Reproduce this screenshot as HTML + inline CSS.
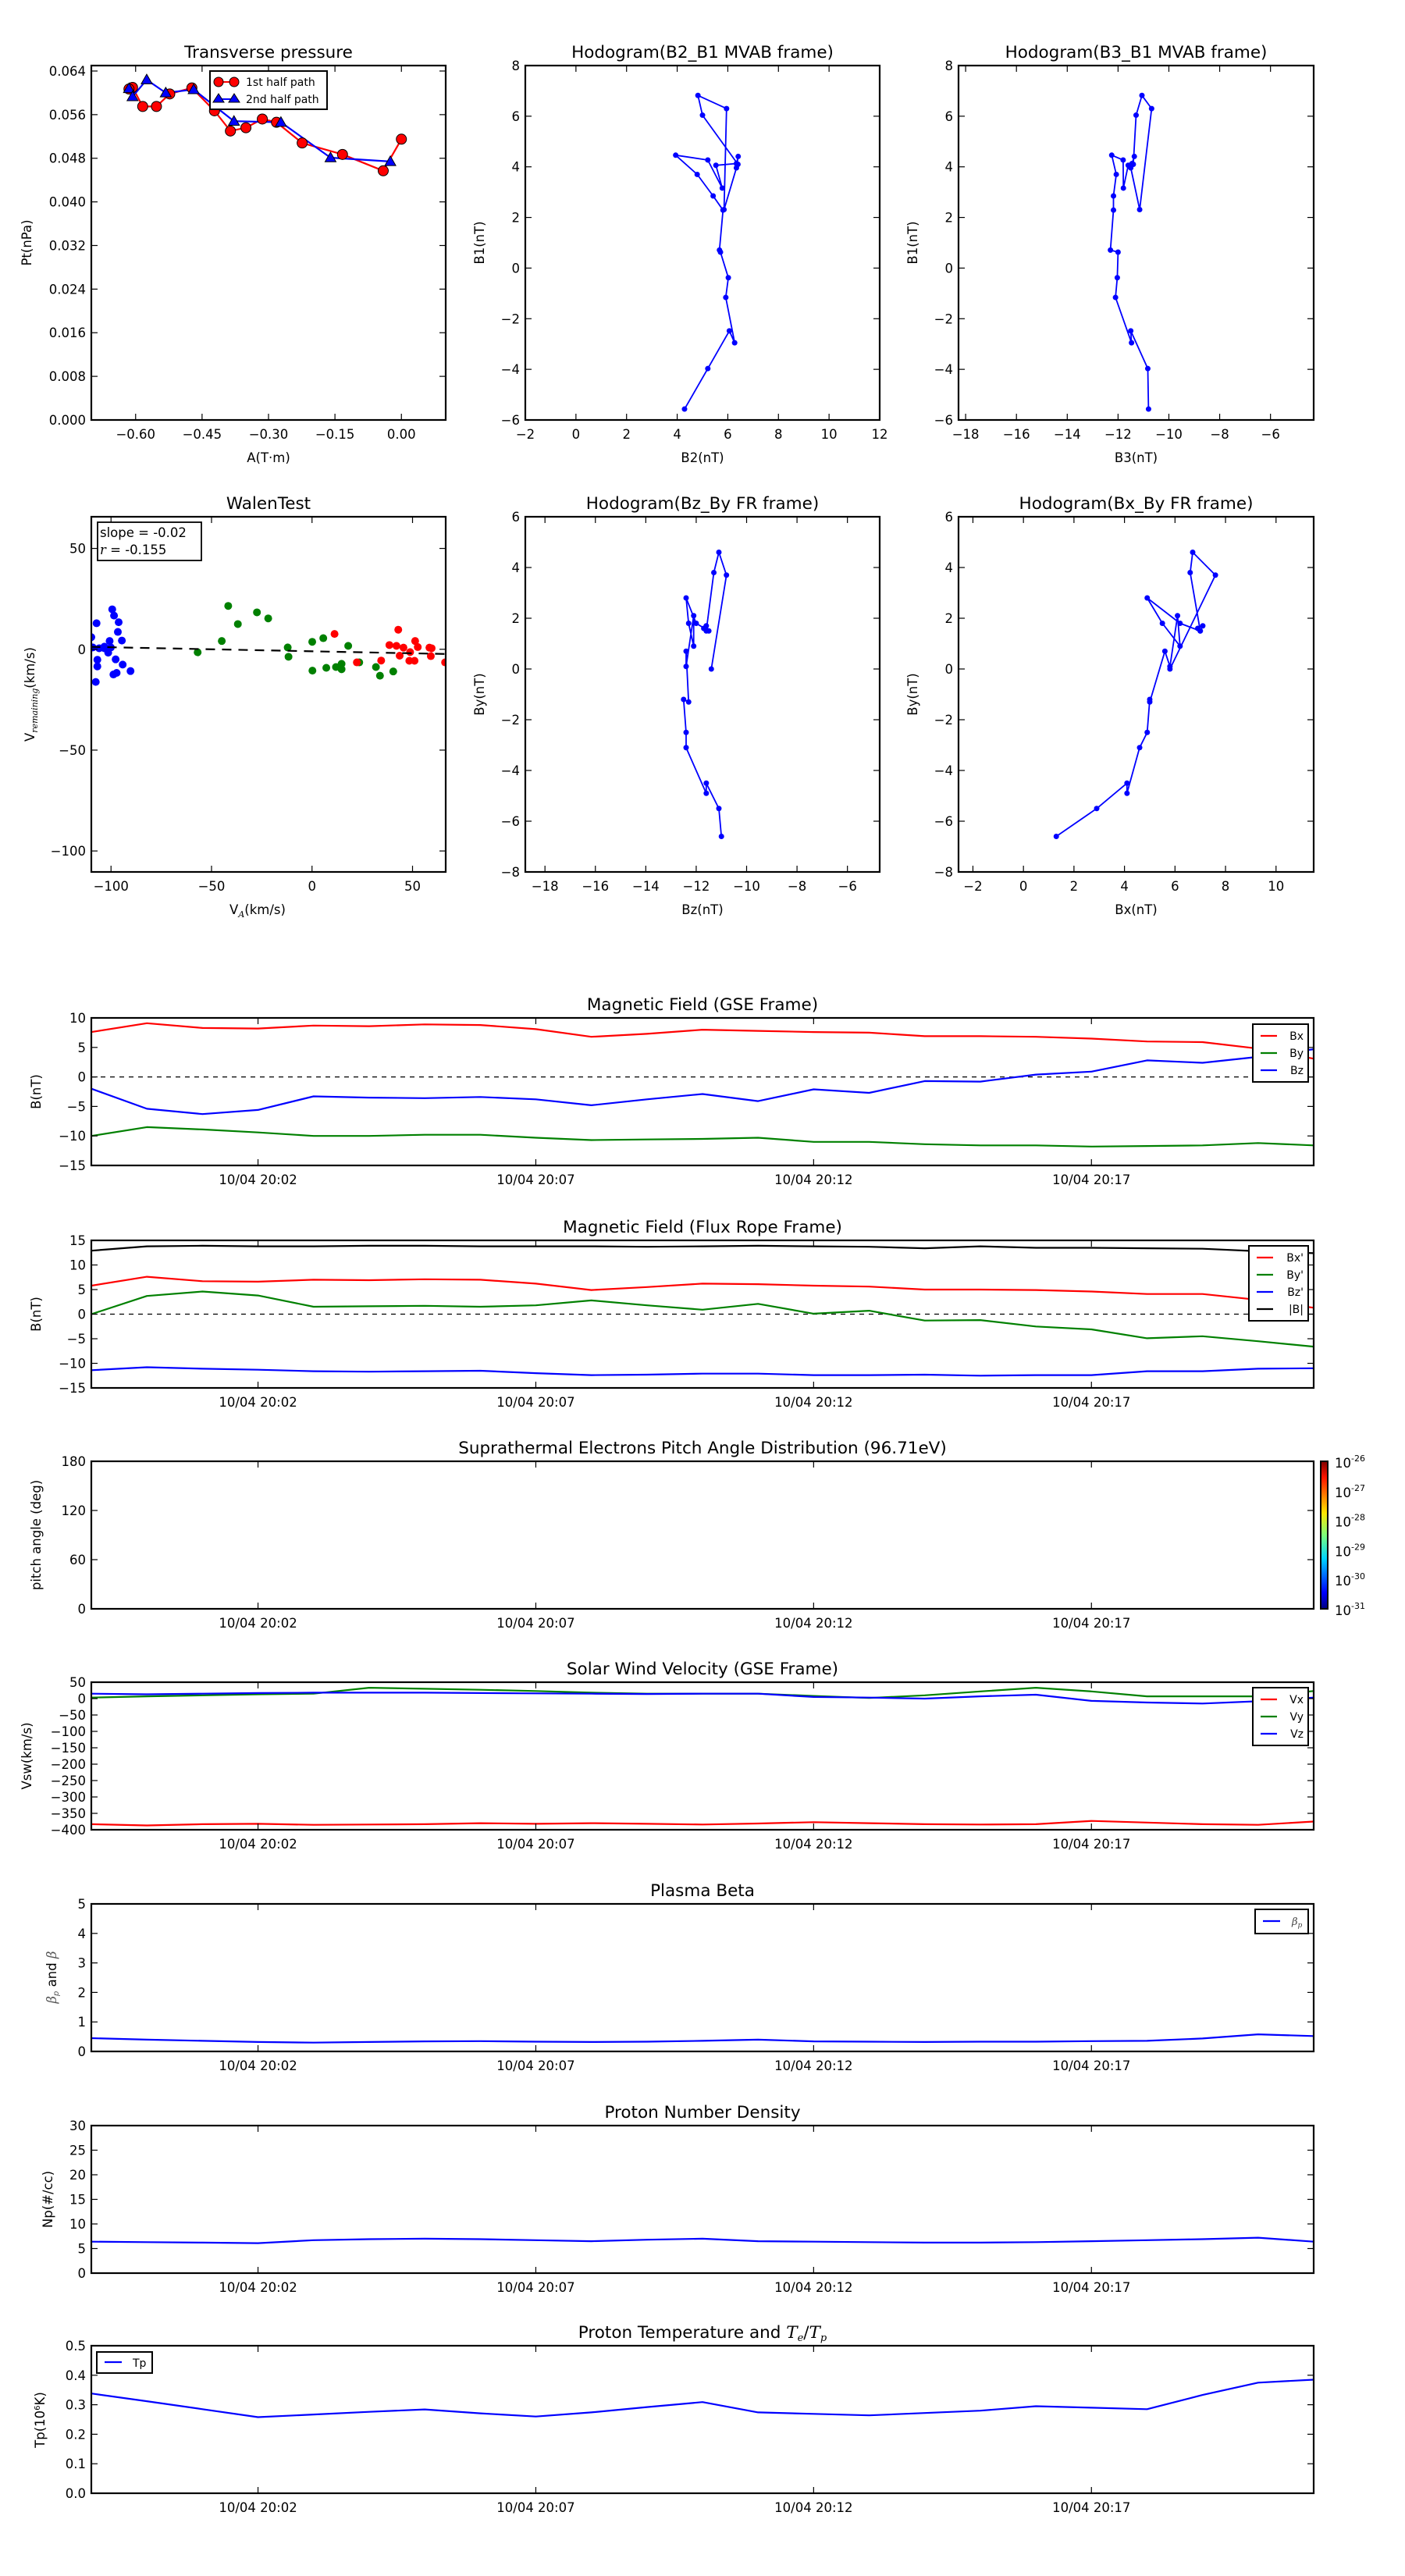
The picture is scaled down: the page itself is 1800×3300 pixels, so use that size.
<!DOCTYPE html>
<html><head><meta charset="utf-8"><title>Flux rope analysis</title>
<style>
html,body{margin:0;padding:0;background:#fff;}
svg{display:block;font-family:"DejaVu Sans","Liberation Sans",sans-serif;}
</style></head>
<body>
<svg id="fig" xmlns="http://www.w3.org/2000/svg" width="1800" height="3300" viewBox="0 0 1800 3300">
<defs>
<linearGradient id="jet" x1="0" y1="1" x2="0" y2="0">
<stop offset="0" stop-color="#00007f"/><stop offset="0.11" stop-color="#0000ff"/><stop offset="0.34" stop-color="#00d4ff"/><stop offset="0.5" stop-color="#7dff7a"/><stop offset="0.65" stop-color="#ffe600"/><stop offset="0.89" stop-color="#ff1400"/><stop offset="1" stop-color="#7f0000"/>
</linearGradient>
</defs>
</svg>
<script>
// ---------- data ----------
// Transverse pressure
const ptRedA = [0.000,-0.041,-0.133,-0.224,-0.282,-0.314,-0.351,-0.386,-0.422,-0.473,-0.523,-0.553,-0.584,-0.607,-0.615];
const ptRedP = [0.0515,0.0457,0.0487,0.0508,0.0546,0.0552,0.0536,0.0530,0.0567,0.0609,0.0598,0.0575,0.0575,0.0610,0.0607];
const ptBlueA = [-0.615,-0.607,-0.575,-0.532,-0.469,-0.378,-0.272,-0.160,-0.025];
const ptBlueP = [0.0608,0.0593,0.0624,0.0600,0.0606,0.0548,0.0546,0.0481,0.0474];
// MVAB hodograms
const mvB1 = [-5.57,-3.97,-2.48,-2.95,-1.16,-0.38,0.63,0.71,2.29,2.85,3.70,4.46,4.27,3.16,4.06,4.13,4.41,3.96,2.31,6.30,6.82,6.04,4.10];
const mvB2 = [4.29,5.21,6.06,6.27,5.92,6.02,5.71,5.67,5.81,5.42,4.79,3.94,5.21,5.78,5.53,6.34,6.41,6.34,5.85,5.95,4.82,5.00,6.40];
const mvB3 = [-10.80,-10.83,-11.50,-11.47,-12.10,-12.03,-12.00,-12.30,-12.18,-12.18,-12.07,-12.25,-11.80,-11.79,-11.60,-11.45,-11.36,-11.50,-11.15,-10.68,-11.06,-11.29,-11.40];
// Walen test
const walBlueX = [-109.8,-107.2,-99.4,-98.5,-96.2,-96.6,-94.6,-100.7,-105.9,-103.3,-101.4,-109.1,-106.8,-106.8,-97.7,-94.2,-90.3,-98.8,-97.2,-107.6,-103.3,-100.1];
const walBlueY = [6.0,12.9,19.8,16.7,13.4,8.6,4.3,4.1,0.5,0.5,-1.7,0.9,-5.2,-8.5,-5.0,-7.6,-10.8,-12.5,-11.7,-16.2,1.3,0.9];
const walGreenX = [-56.9,-44.9,-41.7,-36.9,-27.4,-21.8,-12.1,-11.7,0.1,5.6,0.2,7.1,11.9,14.7,14.7,18.0,23.5,31.8,33.8,40.4];
const walGreenY = [-1.5,4.1,21.5,12.5,18.3,15.3,0.9,-3.7,3.7,5.5,-10.6,-9.2,-8.8,-7.2,-9.9,1.7,-6.5,-8.8,-13.1,-11.0];
const walRedX = [11.2,22.3,34.4,42.9,38.5,42.0,45.5,43.6,48.8,51.3,52.6,48.4,51.0,58.4,59.5,59.1,66.2];
const walRedY = [7.6,-6.5,-5.6,9.7,2.1,1.7,0.8,-3.2,-1.4,4.1,1.1,-5.7,-5.7,0.8,0.5,-3.4,-6.5];
const walSlope = -0.02;
const walIntercept = -1.0;
// Time series (minutes since 19:59)
const minutes = [0,1,2,3,4,5,6,7,8,9,10,11,12,13,14,15,16,17,18,19,20,21,22];
const timeTickMin = [3,8,13,18];
const timeTickLabels = ["10/04 20:02","10/04 20:07","10/04 20:12","10/04 20:17"];
const gseBx = [7.6,9.1,8.3,8.2,8.7,8.6,8.9,8.8,8.1,6.8,7.3,8.0,7.8,7.6,7.5,6.9,6.9,6.8,6.5,6.0,5.9,4.8,3.1];
const gseBy = [-10.0,-8.5,-8.9,-9.4,-10.0,-10.0,-9.8,-9.8,-10.3,-10.7,-10.6,-10.5,-10.3,-11.0,-11.0,-11.4,-11.6,-11.6,-11.8,-11.7,-11.6,-11.2,-11.6];
const gseBz = [-2.0,-5.4,-6.3,-5.6,-3.3,-3.5,-3.6,-3.4,-3.8,-4.8,-3.8,-2.9,-4.1,-2.1,-2.7,-0.7,-0.8,0.4,0.9,2.8,2.4,3.4,4.7];
const frBx = [5.8,7.6,6.7,6.6,7.0,6.9,7.1,7.0,6.2,4.9,5.5,6.2,6.1,5.8,5.6,5.0,5.0,4.9,4.6,4.1,4.1,2.9,1.3];
const frBy = [0.0,3.7,4.6,3.8,1.5,1.6,1.7,1.5,1.8,2.8,1.8,0.9,2.1,0.1,0.7,-1.3,-1.2,-2.5,-3.1,-4.9,-4.5,-5.5,-6.6];
const frBz = [-11.4,-10.8,-11.1,-11.3,-11.6,-11.7,-11.6,-11.5,-12.0,-12.4,-12.3,-12.1,-12.1,-12.4,-12.4,-12.3,-12.5,-12.4,-12.4,-11.6,-11.6,-11.1,-11.0];
const frBt = [12.9,13.8,13.9,13.8,13.8,13.9,13.9,13.8,13.8,13.8,13.7,13.8,13.9,13.8,13.7,13.4,13.8,13.5,13.5,13.4,13.3,12.8,12.4];
const vx = [-383,-387,-383,-382,-385,-384,-383,-380,-382,-380,-382,-384,-381,-377,-380,-383,-384,-383,-373,-378,-383,-385,-375];
const vy = [3,7,10,13,15,33,30,27,23,18,15,15,15,8,2,10,22,33,22,7,7,7,23];
const vz = [15,13,15,17,18,18,18,17,16,15,14,15,15,5,3,0,7,12,-7,-12,-15,-8,3];
const betaP = [0.45,0.40,0.36,0.32,0.30,0.32,0.34,0.35,0.33,0.32,0.33,0.36,0.40,0.34,0.33,0.32,0.33,0.33,0.35,0.36,0.44,0.58,0.52];
const np = [6.4,6.3,6.2,6.1,6.7,6.9,7.0,6.9,6.7,6.5,6.8,7.0,6.5,6.4,6.3,6.2,6.2,6.3,6.5,6.7,6.9,7.2,6.4];
const tp = [0.338,0.312,0.285,0.258,0.267,0.276,0.284,0.271,0.260,0.274,0.292,0.309,0.274,0.269,0.264,0.272,0.280,0.295,0.290,0.285,0.333,0.375,0.385];
// colorbar tick exponents
const cbarExp = ["-26","-27","-28","-29","-30","-31"];

// ---------- helpers ----------
const NS = "http://www.w3.org/2000/svg";
const fig = document.getElementById('fig');
let clipId = 0;
function mk(tag, attrs, parent, name) {
  const el = document.createElementNS(NS, tag);
  for (const k in attrs) el.setAttribute(k, attrs[k]);
  
  
  (parent || fig).appendChild(el);
  return el;
}
function txt(s, attrs, parent, name) {
  const t = mk('text', attrs, parent, name);
  t.textContent = s;
  return t;
}
function fmtMinus(v, d) {
  const s = v.toFixed(d);
  return s.replace('-', '\u2212');
}
function makeAxes(o) {
  const g = mk('g', {}, fig, o.name);
  const sx = v => o.x0 + (v - o.xmin) / (o.xmax - o.xmin) * (o.x1 - o.x0);
  const sy = v => o.y1 - (v - o.ymin) / (o.ymax - o.ymin) * (o.y1 - o.y0);
  const cid = 'clip' + (clipId++);
  const cp = mk('clipPath', {id: cid}, g, 'clip-region');
  mk('rect', {x: o.x0, y: o.y0, width: o.x1 - o.x0, height: o.y1 - o.y0}, cp, 'clip-rect');
  const plot = mk('g', {'clip-path': 'url(#' + cid + ')'}, g, 'plot-area');
  // ticks
  const tg = mk('g', {stroke: '#000', 'stroke-width': 1.2}, g, 'ticks');
  o.xticks.forEach((v, i) => {
    const x = sx(v);
    mk('line', {x1: x, y1: o.y1, x2: x, y2: o.y1 - 8}, tg, 'x-tick');
    mk('line', {x1: x, y1: o.y0, x2: x, y2: o.y0 + 8}, tg, 'x-tick-top');
    txt(o.xlabels[i], {x: x, y: o.y1 + 24, 'text-anchor': 'middle', 'font-size': 16.5}, g, 'x-tick-label');
  });
  o.yticks.forEach((v, i) => {
    const y = sy(v);
    mk('line', {x1: o.x0, y1: y, x2: o.x0 + 8, y2: y}, tg, 'y-tick');
    mk('line', {x1: o.x1, y1: y, x2: o.x1 - 8, y2: y}, tg, 'y-tick-right');
    txt(o.ylabels[i], {x: o.x0 - 7, y: y + 6, 'text-anchor': 'end', 'font-size': 16.5}, g, 'y-tick-label');
  });
  mk('rect', {x: o.x0, y: o.y0, width: o.x1 - o.x0, height: o.y1 - o.y0, fill: 'none', stroke: '#000', 'stroke-width': 2.2}, g, 'axes-frame');
  if (o.title) txt(o.title, {x: (o.x0 + o.x1) / 2, y: o.y0 - 10, 'text-anchor': 'middle', 'font-size': 21.5}, g, 'chart-title');
  if (o.xlabel) txt(o.xlabel, {x: (o.x0 + o.x1) / 2, y: o.y1 + 54, 'text-anchor': 'middle', 'font-size': 16.5}, g, 'x-axis-title');
  if (o.ylabel) txt(o.ylabel, {x: 0, y: 0, 'text-anchor': 'middle', 'font-size': 16.5, transform: 'translate(' + o.ylx + ',' + ((o.y0 + o.y1) / 2) + ') rotate(-90)'}, g, 'y-axis-title');
  return {g, plot, sx, sy, o};
}
function range(a, b, s) { const r = []; for (let v = a; v <= b + 1e-9; v += s) r.push(Math.round(v * 1000) / 1000); return r; }
function line(ax, xs, ys, color, name, w) {
  const pts = xs.map((x, i) => ax.sx(x).toFixed(1) + ',' + ax.sy(ys[i]).toFixed(1)).join(' ');
  return mk('polyline', {points: pts, fill: 'none', stroke: color, 'stroke-width': w || 2.2, 'stroke-linejoin': 'round'}, ax.plot, name);
}
function dots(ax, xs, ys, color, r, name, stroke) {
  xs.forEach((x, i) => {
    mk('circle', {cx: ax.sx(x), cy: ax.sy(ys[i]), r: r, fill: color, stroke: stroke || 'none', 'stroke-width': 1}, ax.plot, name);
  });
}
function tris(ax, xs, ys, color, s, name) {
  xs.forEach((x, i) => {
    const cx = ax.sx(x), cy = ax.sy(ys[i]);
    mk('polygon', {points: (cx) + ',' + (cy - s) + ' ' + (cx - s) + ',' + (cy + s * 0.75) + ' ' + (cx + s) + ',' + (cy + s * 0.75), fill: color, stroke: '#000', 'stroke-width': 1}, ax.plot, name);
  });
}

// ---------- Row 1 ----------
const c1 = [117, 571], c2 = [673, 1127], c3 = [1228, 1683];
const r1 = [84, 538], r2 = [662, 1117];

const ax1 = makeAxes({name: 'transverse-pressure-chart', x0: c1[0], x1: c1[1], y0: r1[0], y1: r1[1], xmin: -0.70, xmax: 0.10, ymin: 0, ymax: 0.065,
  xticks: [-0.6, -0.45, -0.3, -0.15, 0], xlabels: ['\u22120.60', '\u22120.45', '\u22120.30', '\u22120.15', '0.00'],
  yticks: range(0, 0.064, 0.008), ylabels: range(0, 0.064, 0.008).map(v => v.toFixed(3)),
  title: 'Transverse pressure', xlabel: 'A(T\u00b7m)', ylabel: 'Pt(nPa)', ylx: 40});
line(ax1, ptRedA, ptRedP, '#ff0000', 'first-half-path-line', 2.2);
line(ax1, ptBlueA, ptBlueP, '#0000ff', 'second-half-path-line', 2.2);
dots(ax1, ptRedA, ptRedP, '#ff0000', 6.5, 'first-half-point', '#000');
tris(ax1, ptBlueA, ptBlueP, '#0000ff', 7, 'second-half-point');
{
  const lg = mk('g', {}, ax1.g, 'legend');
  mk('rect', {x: 269, y: 91, width: 150, height: 49, fill: '#fff', stroke: '#000', 'stroke-width': 2}, lg, 'legend-frame');
  mk('line', {x1: 280, y1: 105, x2: 300, y2: 105, stroke: '#ff0000', 'stroke-width': 2}, lg, 'legend-line-red');
  mk('circle', {cx: 280, cy: 105, r: 6, fill: '#ff0000', stroke: '#000'}, lg, 'legend-marker-red');
  mk('circle', {cx: 300, cy: 105, r: 6, fill: '#ff0000', stroke: '#000'}, lg, 'legend-marker-red');
  txt('1st half path', {x: 315, y: 110, 'font-size': 14}, lg, 'legend-label');
  mk('line', {x1: 280, y1: 127, x2: 300, y2: 127, stroke: '#0000ff', 'stroke-width': 2}, lg, 'legend-line-blue');
  mk('polygon', {points: '280,120 273,131 287,131', fill: '#0000ff', stroke: '#000'}, lg, 'legend-marker-blue');
  mk('polygon', {points: '300,120 293,131 307,131', fill: '#0000ff', stroke: '#000'}, lg, 'legend-marker-blue');
  txt('2nd half path', {x: 315, y: 132, 'font-size': 14}, lg, 'legend-label');
}

const ax2 = makeAxes({name: 'hodogram-b2-b1-chart', x0: c2[0], x1: c2[1], y0: r1[0], y1: r1[1], xmin: -2, xmax: 12, ymin: -6, ymax: 8,
  xticks: range(-2, 12, 2), xlabels: range(-2, 12, 2).map(v => fmtMinus(v, 0)),
  yticks: range(-6, 8, 2), ylabels: range(-6, 8, 2).map(v => fmtMinus(v, 0)),
  title: 'Hodogram(B2_B1 MVAB frame)', xlabel: 'B2(nT)', ylabel: 'B1(nT)', ylx: 620});
line(ax2, mvB2, mvB1, '#0000ff', 'hodogram-line', 1.8);
dots(ax2, mvB2, mvB1, '#0000ff', 3.5, 'hodogram-point');

const ax3 = makeAxes({name: 'hodogram-b3-b1-chart', x0: c3[0], x1: c3[1], y0: r1[0], y1: r1[1], xmin: -18.28, xmax: -4.3, ymin: -6, ymax: 8,
  xticks: range(-18, -6, 2), xlabels: range(-18, -6, 2).map(v => fmtMinus(v, 0)),
  yticks: range(-6, 8, 2), ylabels: range(-6, 8, 2).map(v => fmtMinus(v, 0)),
  title: 'Hodogram(B3_B1 MVAB frame)', xlabel: 'B3(nT)', ylabel: 'B1(nT)', ylx: 1175});
line(ax3, mvB3, mvB1, '#0000ff', 'hodogram-line', 1.8);
dots(ax3, mvB3, mvB1, '#0000ff', 3.5, 'hodogram-point');

// ---------- Row 2 ----------
const ax4 = makeAxes({name: 'walen-test-chart', x0: c1[0], x1: c1[1], y0: r2[0], y1: r2[1], xmin: -109.8, xmax: 66.5, ymin: -110.4, ymax: 65.7,
  xticks: [-100, -50, 0, 50], xlabels: ['\u2212100', '\u221250', '0', '50'],
  yticks: [-100, -50, 0, 50], ylabels: ['\u2212100', '\u221250', '0', '50'],
  title: 'WalenTest', xlabel: null, ylabel: null});
dots(ax4, walBlueX, walBlueY, '#0000ff', 5, 'walen-point-blue');
dots(ax4, walGreenX, walGreenY, '#008000', 5, 'walen-point-green');
dots(ax4, walRedX, walRedY, '#ff0000', 5, 'walen-point-red');
{
  const fx = [-110, 67];
  mk('line', {x1: ax4.sx(fx[0]), y1: ax4.sy(walSlope * fx[0] + walIntercept), x2: ax4.sx(fx[1]), y2: ax4.sy(walSlope * fx[1] + walIntercept), stroke: '#000', 'stroke-width': 2.2, 'stroke-dasharray': '12,9'}, ax4.plot, 'walen-fit-line');
  const bx = mk('g', {}, ax4.g, 'walen-stats-box');
  mk('rect', {x: 125, y: 669, width: 133, height: 49, fill: '#fff', stroke: '#000', 'stroke-width': 1.8}, bx, 'stats-frame');
  txt('slope = -0.02', {x: 128, y: 688, 'font-size': 16.5}, bx, 'slope-text');
  const rt = txt('', {x: 128, y: 710, 'font-size': 16.5}, bx, 'r-text');
  const rv = mk('tspan', {'font-family': '"DejaVu Serif","Liberation Serif",serif', 'font-style': 'italic'}, rt, 'r-symbol'); rv.textContent = 'r';
  const rr = mk('tspan', {}, rt, 'r-value'); rr.textContent = ' = -0.155';
  const xl = txt('V', {x: 330, y: 1171, 'text-anchor': 'middle', 'font-size': 16.5}, ax4.g, 'x-axis-title');
  const xs1 = mk('tspan', {'font-size': 11, dy: 4, 'font-style': 'italic', 'font-family': '"DejaVu Serif",serif'}, xl, 'x-axis-subscript'); xs1.textContent = 'A';
  const xs2 = mk('tspan', {dy: -4}, xl, 'x-axis-unit'); xs2.textContent = '(km/s)';
  const yl = txt('V', {x: 0, y: 0, 'text-anchor': 'middle', 'font-size': 16.5, transform: 'translate(44,' + ((r2[0] + r2[1]) / 2) + ') rotate(-90)'}, ax4.g, 'y-axis-title');
  const ys1 = mk('tspan', {'font-size': 11, dy: 4, 'font-style': 'italic', 'font-family': '"DejaVu Serif",serif'}, yl, 'y-axis-subscript'); ys1.textContent = 'remaining';
  const ys2 = mk('tspan', {dy: -4}, yl, 'y-axis-unit'); ys2.textContent = '(km/s)';
}

const ax5 = makeAxes({name: 'hodogram-bz-by-chart', x0: c2[0], x1: c2[1], y0: r2[0], y1: r2[1], xmin: -18.78, xmax: -4.72, ymin: -8, ymax: 6,
  xticks: range(-18, -6, 2), xlabels: range(-18, -6, 2).map(v => fmtMinus(v, 0)),
  yticks: range(-8, 6, 2), ylabels: range(-8, 6, 2).map(v => fmtMinus(v, 0)),
  title: 'Hodogram(Bz_By FR frame)', xlabel: 'Bz(nT)', ylabel: 'By(nT)', ylx: 620});
line(ax5, frBz, frBy, '#0000ff', 'hodogram-line', 1.8);
dots(ax5, frBz, frBy, '#0000ff', 3.5, 'hodogram-point');

const ax6 = makeAxes({name: 'hodogram-bx-by-chart', x0: c3[0], x1: c3[1], y0: r2[0], y1: r2[1], xmin: -2.57, xmax: 11.49, ymin: -8, ymax: 6,
  xticks: range(-2, 10, 2), xlabels: range(-2, 10, 2).map(v => fmtMinus(v, 0)),
  yticks: range(-8, 6, 2), ylabels: range(-8, 6, 2).map(v => fmtMinus(v, 0)),
  title: 'Hodogram(Bx_By FR frame)', xlabel: 'Bx(nT)', ylabel: 'By(nT)', ylx: 1175});
line(ax6, frBx, frBy, '#0000ff', 'hodogram-line', 1.8);
dots(ax6, frBx, frBy, '#0000ff', 3.5, 'hodogram-point');

// ---------- time series ----------
const TX0 = 117, TX1 = 1683;
function tsAxes(name, y0, y1, ymin, ymax, yticks, ylabels, title, ylabel, ylx) {
  return makeAxes({name: name, x0: TX0, x1: TX1, y0: y0, y1: y1, xmin: 0, xmax: 22, ymin: ymin, ymax: ymax,
    xticks: timeTickMin, xlabels: timeTickLabels, yticks: yticks, ylabels: ylabels, title: title, xlabel: null, ylabel: ylabel, ylx: ylx});
}
function legendBox(ax, x, y, w, entries, fs) {
  const lg = mk('g', {}, ax.g, 'legend');
  const h = entries.length * 22 + 8;
  mk('rect', {x: x, y: y, width: w, height: h, fill: '#fff', stroke: '#000', 'stroke-width': 2}, lg, 'legend-frame');
  entries.forEach((e, i) => {
    const cy = y + 15 + i * 22;
    mk('line', {x1: x + 10, y1: cy, x2: x + 31, y2: cy, stroke: e[1], 'stroke-width': 2.2}, lg, 'legend-swatch');
    const t = txt(e[0], {x: x + w - 6, y: cy + 5, 'text-anchor': 'end', 'font-size': fs || 14}, lg, 'legend-label');
  });
  return lg;
}
function zeroLine(ax) {
  mk('line', {x1: TX0, y1: ax.sy(0), x2: TX1, y2: ax.sy(0), stroke: '#000', 'stroke-width': 1.2, 'stroke-dasharray': '6,6'}, ax.plot, 'zero-line');
}

const axG = tsAxes('magnetic-field-gse-chart', 1304, 1493, -15, 10, range(-15, 10, 5), range(-15, 10, 5).map(v => fmtMinus(v, 0)), 'Magnetic Field (GSE Frame)', 'B(nT)', 52);
zeroLine(axG);
line(axG, minutes, gseBx, '#ff0000', 'bx-line');
line(axG, minutes, gseBy, '#008000', 'by-line');
line(axG, minutes, gseBz, '#0000ff', 'bz-line');
legendBox(axG, 1605, 1312, 71, [['Bx', '#ff0000'], ['By', '#008000'], ['Bz', '#0000ff']]);

const axF = tsAxes('magnetic-field-flux-rope-chart', 1589, 1778, -15, 15, range(-15, 15, 5), range(-15, 15, 5).map(v => fmtMinus(v, 0)), 'Magnetic Field (Flux Rope Frame)', 'B(nT)', 52);
zeroLine(axF);
line(axF, minutes, frBx, '#ff0000', 'bx-prime-line');
line(axF, minutes, frBy, '#008000', 'by-prime-line');
line(axF, minutes, frBz, '#0000ff', 'bz-prime-line');
line(axF, minutes, frBt, '#000000', 'b-total-line');
legendBox(axF, 1600, 1596, 76, [["Bx'", '#ff0000'], ["By'", '#008000'], ["Bz'", '#0000ff'], ['|B|', '#000000']]);

const axP = tsAxes('pitch-angle-distribution-chart', 1872, 2061, 0, 180, [0, 60, 120, 180], ['0', '60', '120', '180'], 'Suprathermal Electrons Pitch Angle Distribution (96.71eV)', 'pitch angle (deg)', 52);
{
  const cb = mk('g', {}, fig, 'colorbar');
  mk('rect', {x: 1692, y: 1872, width: 9, height: 189, fill: 'url(#jet)', stroke: '#000', 'stroke-width': 2}, cb, 'colorbar-gradient');
  cbarExp.forEach((e, i) => {
    const y = 1872 + i * 189 / (cbarExp.length - 1);
    const t = txt('10', {x: 1710, y: y + 8, 'font-size': 16.5}, cb, 'colorbar-tick-label');
    const s = mk('tspan', {dy: -8, 'font-size': 11}, t, 'colorbar-exponent'); s.textContent = e;
  });
}

const axV = tsAxes('solar-wind-velocity-chart', 2155, 2344, -400, 50, range(-400, 50, 50), range(-400, 50, 50).map(v => fmtMinus(v, 0)), 'Solar Wind Velocity (GSE Frame)', 'Vsw(km/s)', 40);
line(axV, minutes, vx, '#ff0000', 'vx-line');
line(axV, minutes, vy, '#008000', 'vy-line');
line(axV, minutes, vz, '#0000ff', 'vz-line');
legendBox(axV, 1605, 2162, 71, [['Vx', '#ff0000'], ['Vy', '#008000'], ['Vz', '#0000ff']]);

const axB = tsAxes('plasma-beta-chart', 2439, 2628, 0, 5, range(0, 5, 1), range(0, 5, 1).map(v => v.toFixed(0)), 'Plasma Beta', null, 0);
line(axB, minutes, betaP, '#0000ff', 'beta-p-line');
{
  const lg = mk('g', {}, axB.g, 'legend');
  mk('rect', {x: 1608, y: 2446, width: 68, height: 31, fill: '#fff', stroke: '#000', 'stroke-width': 2}, lg, 'legend-frame');
  mk('line', {x1: 1618, y1: 2461, x2: 1640, y2: 2461, stroke: '#0000ff', 'stroke-width': 2.2}, lg, 'legend-swatch');
  const t = txt('\u03b2', {x: 1655, y: 2466, 'font-size': 13, 'font-style': 'italic', fill: '#444', 'font-family': '"DejaVu Serif",serif'}, lg, 'legend-label');
  const s = mk('tspan', {dy: 3, 'font-size': 9}, t, 'legend-subscript'); s.textContent = 'p';
  const yl = txt('', {x: 0, y: 0, 'text-anchor': 'middle', 'font-size': 16.5, transform: 'translate(72,2533) rotate(-90)'}, axB.g, 'y-axis-title');
  const a = mk('tspan', {'font-style': 'italic', 'font-family': '"DejaVu Serif",serif', fill: '#555'}, yl, 'beta-symbol'); a.textContent = '\u03b2';
  const b = mk('tspan', {'font-size': 10, dy: 3, 'font-style': 'italic', fill: '#555'}, yl, 'beta-subscript'); b.textContent = 'p';
  const c = mk('tspan', {dy: -3}, yl, 'y-axis-and'); c.textContent = ' and ';
  const d = mk('tspan', {'font-style': 'italic', 'font-family': '"DejaVu Serif",serif', fill: '#555'}, yl, 'beta-symbol'); d.textContent = '\u03b2';
}

const axN = tsAxes('proton-density-chart', 2723, 2912, 0, 30, range(0, 30, 5), range(0, 30, 5).map(v => v.toFixed(0)), 'Proton Number Density', 'Np(#/cc)', 67);
line(axN, minutes, np, '#0000ff', 'np-line');

const axT = tsAxes('proton-temperature-chart', 3005, 3194, 0, 0.5, range(0, 0.5, 0.1), range(0, 0.5, 0.1).map(v => v.toFixed(1)), null, null, 0);
line(axT, minutes, tp, '#0000ff', 'tp-line');
{
  const t = txt('Proton Temperature and ', {x: 900, y: 2995, 'text-anchor': 'middle', 'font-size': 21.5}, axT.g, 'chart-title');
  const a = mk('tspan', {'font-style': 'italic', 'font-family': '"DejaVu Serif",serif'}, t, 'title-te'); a.textContent = 'T';
  const b = mk('tspan', {'font-size': 13, dy: 4, 'font-style': 'italic', 'font-family': '"DejaVu Serif",serif'}, t, 'title-te-sub'); b.textContent = 'e';
  const c = mk('tspan', {dy: -4, 'font-family': '"DejaVu Serif",serif'}, t, 'title-slash'); c.textContent = '/';
  const d = mk('tspan', {'font-style': 'italic', 'font-family': '"DejaVu Serif",serif'}, t, 'title-tp'); d.textContent = 'T';
  const e = mk('tspan', {'font-size': 13, dy: 4, 'font-style': 'italic', 'font-family': '"DejaVu Serif",serif'}, t, 'title-tp-sub'); e.textContent = 'p';
  const yl = txt('Tp(10', {x: 0, y: 0, 'text-anchor': 'middle', 'font-size': 16.5, transform: 'translate(57,3100) rotate(-90)'}, axT.g, 'y-axis-title');
  const s = mk('tspan', {dy: -6, 'font-size': 10}, yl, 'y-axis-exponent'); s.textContent = '6';
  const k = mk('tspan', {dy: 6}, yl, 'y-axis-unit'); k.textContent = 'K)';
  const lg = mk('g', {}, axT.g, 'legend');
  mk('rect', {x: 124, y: 3013, width: 71, height: 27, fill: '#fff', stroke: '#000', 'stroke-width': 2}, lg, 'legend-frame');
  mk('line', {x1: 134, y1: 3026, x2: 156, y2: 3026, stroke: '#0000ff', 'stroke-width': 2.2}, lg, 'legend-swatch');
  txt('Tp', {x: 170, y: 3032, 'font-size': 14}, lg, 'legend-label');
}
</script>
</body></html>
